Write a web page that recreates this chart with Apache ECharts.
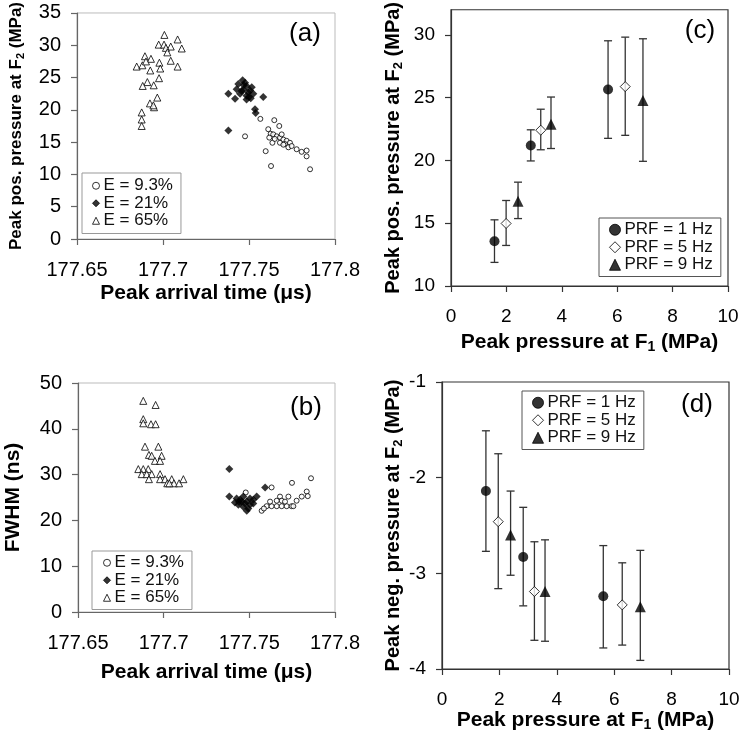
<!DOCTYPE html>
<html><head><meta charset="utf-8">
<script src="https://cdn.jsdelivr.net/npm/echarts@6/dist/echarts.min.js"></script>
<style>html,body{margin:0;padding:0;background:#fff}#c{width:750px;height:742px}</style>
</head><body><div id="c"></div>
<script>
const FONT = 'Arial, "Liberation Sans", sans-serif';

// ---------- Panel (a): peak positive pressure vs arrival time ----------
const aCircle = [[177.7566,18.6],[177.7647,18.4],[177.7676,17.5],[177.7612,17.0],[177.7626,16.3],[177.7618,15.7],[177.7641,16.2],[177.7661,15.9],[177.7680,15.7],[177.7700,15.4],[177.7719,15.2],[177.7636,14.9],[177.7680,14.9],[177.7709,14.7],[177.7738,14.9],[177.7729,14.2],[177.7777,13.9],[177.7806,13.5],[177.7835,13.7],[177.7835,12.8],[177.7477,15.9],[177.7597,13.6],[177.7628,11.3],[177.7855,10.8],[177.7690,16.2],[177.7748,14.4],[177.7650,15.5],[177.7700,14.6]];
const aDiamond = [[177.7463,24.6],[177.7438,24.0],[177.7486,23.7],[177.7428,23.2],[177.7467,23.1],[177.7506,23.0],[177.7448,22.5],[177.7486,22.2],[177.7525,22.5],[177.7380,22.5],[177.7419,21.7],[177.7486,21.6],[177.7583,22.0],[177.7535,20.1],[177.7539,19.5],[177.7380,16.8],[177.7457,22.9],[177.7496,22.7],[177.7516,23.5],[177.7477,24.2],[177.7470,23.8],[177.7500,22.0],[177.7510,21.8]];
const aTriangle = [[177.7008,31.6],[177.7085,30.9],[177.6975,30.1],[177.7006,30.1],[177.7045,29.8],[177.7017,29.6],[177.7109,29.5],[177.6895,28.3],[177.6930,27.9],[177.6847,26.7],[177.6880,26.9],[177.6901,27.5],[177.6979,27.3],[177.6926,26.1],[177.6984,26.4],[177.7045,27.6],[177.7085,26.7],[177.6977,24.9],[177.6909,24.3],[177.6882,23.7],[177.6946,23.8],[177.6967,21.9],[177.6924,21.0],[177.6948,20.4],[177.6876,19.6],[177.6876,18.5],[177.6876,17.5],[177.6944,20.7],[177.7025,28.9]];

// ---------- Panel (b): FWHM vs arrival time ----------
const bCircle = [[177.7479,26.1],[177.7630,27.2],[177.7749,28.2],[177.7860,29.2],[177.7572,22.1],[177.7601,23.1],[177.7630,23.1],[177.7660,23.1],[177.7689,23.1],[177.7718,23.1],[177.7747,23.1],[177.7679,25.2],[177.7689,24.3],[177.7728,25.2],[177.7776,24.3],[177.7806,25.2],[177.7835,26.3],[177.7841,25.3],[177.7660,24.3],[177.7621,24.1],[177.7708,24.1],[177.7757,23.1],[177.7585,22.6]];
const bDiamond = [[177.7383,31.2],[177.7592,27.2],[177.7383,25.2],[177.7426,24.8],[177.7446,24.5],[177.7465,25.2],[177.7485,24.1],[177.7504,24.8],[177.7523,24.5],[177.7543,25.2],[177.7436,23.4],[177.7465,23.0],[177.7485,22.1],[177.7504,23.4],[177.7523,23.7],[177.7416,23.9],[177.7455,24.1],[177.7494,22.6],[177.7475,23.7],[177.7440,24.0]];
const bTriangle = [[177.6881,46.1],[177.6953,45.2],[177.6881,42.1],[177.6926,41.0],[177.6953,41.0],[177.6881,41.2],[177.6891,36.1],[177.6969,36.1],[177.6914,34.3],[177.6930,34.1],[177.6988,34.1],[177.6949,33.0],[177.6979,33.0],[177.6852,31.2],[177.6881,31.2],[177.6910,31.2],[177.6872,30.1],[177.6901,30.1],[177.6930,30.1],[177.6914,29.0],[177.6979,30.1],[177.6979,29.0],[177.7008,29.0],[177.7021,28.1],[177.7047,29.0],[177.7060,28.1],[177.7090,28.1],[177.7115,29.0],[177.7033,28.1]];

// ---------- Panel (c): peak pos. pressure at F2 vs peak pressure at F1 ----------
// [x, mean, low, high]
const cPRF1 = [[1.57,13.57,11.88,15.27],[2.88,21.19,19.96,22.44],[5.67,25.65,21.76,29.53]];
const cPRF5 = [[1.99,14.98,13.23,16.81],[3.24,22.41,20.85,24.08],[6.29,25.88,22.0,29.82]];
const cPRF9 = [[2.42,16.75,15.37,18.27],[3.61,22.88,20.95,25.05],[6.93,24.78,19.93,29.69]];

// ---------- Panel (d): peak neg. pressure at F2 vs peak pressure at F1 ----------
const dPRF1 = [[1.53,-2.14,-2.77,-1.51],[2.83,-2.83,-3.34,-2.31],[5.62,-3.24,-3.78,-2.71]];
const dPRF5 = [[1.96,-2.46,-3.16,-1.75],[3.22,-3.19,-3.70,-2.67],[6.28,-3.33,-3.75,-2.89]];
const dPRF9 = [[2.39,-2.60,-3.02,-2.14],[3.59,-3.19,-3.71,-2.65],[6.91,-3.35,-3.91,-2.76]];

// ---------- tick values ----------
const abXTicks = [177.65, 177.7, 177.75, 177.8];
const aYTicks = [0,5,10,15,20,25,30,35];
const bYTicks = [0,10,20,30,40,50];
const cdXTicks = [0,2,4,6,8,10];
const cYTicks = [10,15,20,25,30];
const dYTicks = [-4,-3,-2,-1];

const E_NAMES = ['E = 9.3%','E = 21%','E = 65%'];
const PRF_NAMES = ['PRF = 1 Hz','PRF = 5 Hz','PRF = 9 Hz'];
const PANEL_LABELS = ['(a)','(b)','(c)','(d)'];

const chart = echarts.init(document.getElementById('c'));

function titleRich(size) {
  return {
    t: {fontSize: size, fontWeight: 'bold', fontFamily: FONT, color: '#000', lineHeight: size + 3},
    s: {fontSize: Math.round(size*0.65), fontWeight: 'bold', fontFamily: FONT, color: '#000', lineHeight: size + 3, verticalAlign: 'bottom'}
  };
}

function xAxisDef(gi, min, max, ticks, lblSize, axColor, name, nameGap, titleSize) {
  return {
    type: 'value', gridIndex: gi, min: min, max: max,
    axisLine: {show: true, onZero: false, lineStyle: {color: axColor, width: 1.2}},
    axisTick: {show: true, length: 6, customValues: ticks, lineStyle: {color: axColor, width: 1.2}},
    axisLabel: {customValues: ticks, fontSize: lblSize, fontFamily: FONT, color: '#000', margin: 21,
      formatter: v => String(+(+v).toFixed(2))},
    splitLine: {show: false},
    name: name, nameLocation: 'middle', nameGap: nameGap, nameMoveOverlap: false,
    nameTextStyle: {rich: titleRich(titleSize)}
  };
}
function yAxisDef(gi, min, max, ticks, lblSize, axColor, name, nameGap, titleSize) {
  return {
    type: 'value', gridIndex: gi, min: min, max: max,
    axisLine: {show: true, onZero: false, lineStyle: {color: axColor, width: 1.2}},
    axisTick: {show: true, length: 6, customValues: ticks, lineStyle: {color: axColor, width: 1.2}},
    axisLabel: {customValues: ticks, fontSize: lblSize, fontFamily: FONT, color: '#000', margin: 16},
    splitLine: {show: false},
    name: name, nameLocation: 'middle', nameGap: nameGap, nameRotate: 90, nameMoveOverlap: false,
    nameTextStyle: {rich: titleRich(titleSize)}
  };
}

const openStyle = {color: '#fff', borderColor: '#000', borderWidth: 1};
const fillStyle = {color: '#000', borderColor: '#000', borderWidth: 0};

function scat(name, gi, data, symbol, size, style) {
  return {type: 'scatter', name: name, xAxisIndex: gi, yAxisIndex: gi, data: data.map(d => [d[0], d[1]]),
    symbol: symbol, symbolSize: size, itemStyle: style, z: 5, silent: true};
}
function errRender(params, api) {
  const x = api.value(0), lo = api.value(2), hi = api.value(3);
  const p1 = api.coord([x, hi]), p2 = api.coord([x, lo]);
  const w = 4;
  const st = {stroke: '#333', lineWidth: 1.3};
  return {type: 'group', children: [
    {type: 'line', shape: {x1: p1[0], y1: p1[1], x2: p2[0], y2: p2[1]}, style: st},
    {type: 'line', shape: {x1: p1[0]-w, y1: p1[1], x2: p1[0]+w, y2: p1[1]}, style: st},
    {type: 'line', shape: {x1: p2[0]-w, y1: p2[1], x2: p2[0]+w, y2: p2[1]}, style: st}
  ]};
}
function err(gi, data) {
  return {type: 'custom', name: 'err' + gi, xAxisIndex: gi, yAxisIndex: gi, data: data,
    encode: {x: 0, y: [2, 3]}, renderItem: errRender, z: 2, silent: true};
}

function legendDef(names, left, top, borderColor, icon, pad) {
  return {
    data: names, orient: 'vertical', left: left, top: top, selectedMode: false,
    borderColor: borderColor, borderWidth: 1, padding: pad, backgroundColor: '#fff',
    itemWidth: icon, itemHeight: icon, itemGap: 0, itemStyle: {borderWidth: 1},
    textStyle: {fontSize: 17, fontFamily: FONT, color: '#111', lineHeight: 17.5, padding: [0,0,0,-1]}
  };
}

const labelPos = [[305,34],[306,408],[700,31],[697,405]];

const option = {
  animation: false,
  backgroundColor: '#fff',
  grid: [
    {left: 77, top: 7, width: 258, height: 232, show: true, borderColor: '#bbb', borderWidth: 1},
    {left: 78, top: 383, width: 257, height: 229, show: true, borderColor: '#bbb', borderWidth: 1},
    {left: 451, top: 4, width: 277, height: 282, show: true, borderColor: '#333', borderWidth: 1.2},
    {left: 442, top: 382, width: 287, height: 287, show: true, borderColor: '#333', borderWidth: 1.2}
  ],
  xAxis: [
    xAxisDef(0, 177.65, 177.8, abXTicks, 20, '#666', '{t|Peak arrival time (μs)}', 42, 21),
    xAxisDef(1, 177.65, 177.8, abXTicks, 20, '#666', '{t|Peak arrival time (μs)}', 48, 21),
    xAxisDef(2, 0, 10, cdXTicks, 19, '#333', '{t|Peak pressure at F}{s|1}{t| (MPa)}', 44, 21),
    xAxisDef(3, 0, 10, cdXTicks, 19, '#333', '{t|Peak pressure at F}{s|1}{t| (MPa)}', 39, 21)
  ],
  yAxis: [
    yAxisDef(0, 0, 35, aYTicks, 20, '#666', '{t|Peak pos. pressure at F}{s|2}{t| (MPa)}', 51, 17),
    yAxisDef(1, 0, 50, bYTicks, 20, '#666', '{t|FWHM (ns)}', 53, 21),
    yAxisDef(2, 10, 32, cYTicks, 19, '#333', '{t|Peak pos. pressure at F}{s|2}{t| (MPa)}', 46, 20),
    yAxisDef(3, -4, -1, dYTicks, 19, '#333', '{t|Peak neg. pressure at F}{s|2}{t| (MPa)}', 37, 20)
  ],
  legend: [
    legendDef(E_NAMES, 82, 173, '#999', 7, [4,8,4,10]),
    legendDef(E_NAMES, 92, 551, '#999', 7, [3,8,3,11]),
    legendDef(PRF_NAMES, 599, 218, '#555', 11, [3,8,3,10]),
    legendDef(PRF_NAMES, 522, 391, '#555', 11, [3,8,3,10])
  ],
  graphic: PANEL_LABELS.map((t, i) => ({
    type: 'text', x: labelPos[i][0], y: labelPos[i][1], z: 10,
    style: {text: t, fontSize: 26, fontFamily: FONT, fill: '#000', align: 'center', verticalAlign: 'middle'}
  })),
  series: [
    scat(E_NAMES[0], 0, aCircle, 'circle', 5, openStyle),
    scat(E_NAMES[1], 0, aDiamond, 'diamond', 8, fillStyle),
    scat(E_NAMES[2], 0, aTriangle, 'triangle', 7, openStyle),
    scat(E_NAMES[0], 1, bCircle, 'circle', 5, openStyle),
    scat(E_NAMES[1], 1, bDiamond, 'diamond', 8, fillStyle),
    scat(E_NAMES[2], 1, bTriangle, 'triangle', 7, openStyle),
    err(2, cPRF1), err(2, cPRF5), err(2, cPRF9),
    scat(PRF_NAMES[0], 2, cPRF1, 'circle', 10, fillStyle),
    scat(PRF_NAMES[1], 2, cPRF5, 'diamond', 10, openStyle),
    scat(PRF_NAMES[2], 2, cPRF9, 'triangle', 11, fillStyle),
    err(3, dPRF1), err(3, dPRF5), err(3, dPRF9),
    scat(PRF_NAMES[0], 3, dPRF1, 'circle', 10, fillStyle),
    scat(PRF_NAMES[1], 3, dPRF5, 'diamond', 10, openStyle),
    scat(PRF_NAMES[2], 3, dPRF9, 'triangle', 11, fillStyle)
  ]
};
chart.setOption(option);
</script></body></html>
